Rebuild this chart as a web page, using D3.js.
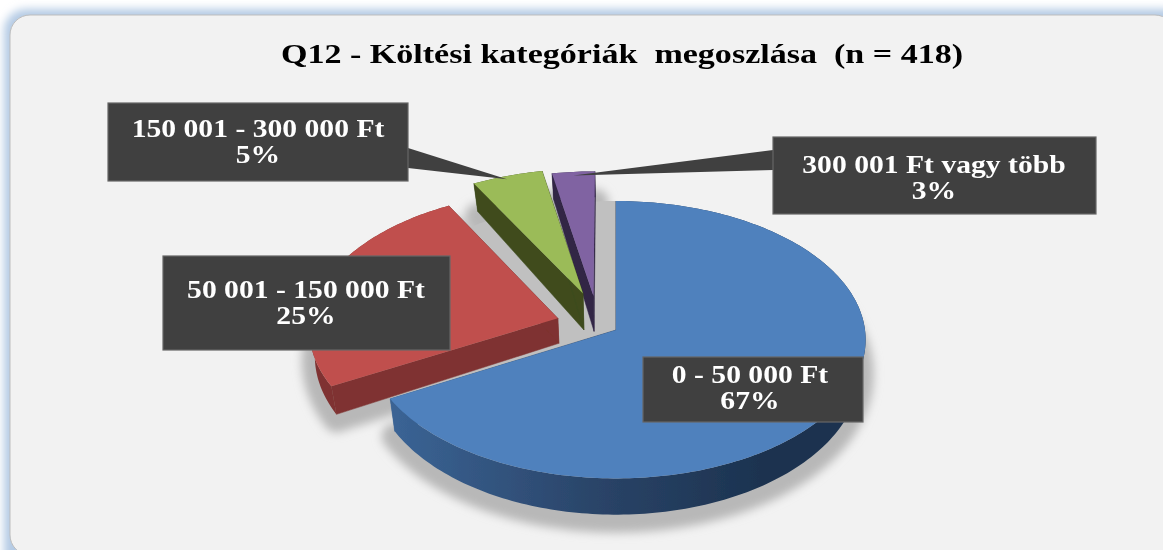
<!DOCTYPE html>
<html><head><meta charset="utf-8">
<style>html,body{margin:0;padding:0;background:#fff;overflow:hidden}svg{display:block}</style>
<script src="https://cdn.jsdelivr.net/npm/d3@7/dist/d3.min.js"></script>
</head><body><svg id="c" width="1163" height="550"></svg>
<script>
const titleText = "Q12 - Költési kategóriák\u00a0 megoszlása\u00a0 (n = 418)";
const categories = ["0 - 50 000 Ft", "50 001 - 150 000 Ft", "150 001 - 300 000 Ft", "300 001 Ft vagy több"];
const values = [67, 25, 5, 3];
const topColors = ["#4f81bd", "#c0504d", "#9bbb59", "#8064a2"];
const wallColors = ["url(#blueWall)", "#7f3331", "#3f4c1e", "#302545"];
const explodeX = [0, -0.235, -0.135, -0.092];
const explodeY = [0, 0.085, 0.27, 0.25];
const sliceDepth = [1, 0.88, 1.35, 1.3];
const boxes = [[643,357,220,65],[163,256,287,94],[108,103,300,78],[773,137,323,77]];
const textCx = [750,306,258,934];
const textBase = [383,298,137,173];
const leaderAnchor = [null,null,[408,148,168],[773,150,170]];

const W = 1163, H = 550, cx = 616, cy = 330, rx = 249, ry = 138, persp = 0.07, depth = 29, depthPersp = 0.25, taper = 0.02;
const labelStretch = 1.21, titleStretch = 1.285;

const svg = d3.select("#c");
const defs = svg.append("defs");
const f1 = defs.append("filter").attr("id","glow").attr("x","-5%").attr("y","-5%").attr("width","110%").attr("height","110%");
f1.append("feGaussianBlur").attr("stdDeviation",4);
const f2 = defs.append("filter").attr("id","shadow").attr("x","-20%").attr("y","-20%").attr("width","140%").attr("height","140%");
f2.append("feGaussianBlur").attr("stdDeviation",5);
const f3 = defs.append("filter").attr("id","soft").attr("x","-2%").attr("y","-2%").attr("width","104%").attr("height","104%");
f3.append("feGaussianBlur").attr("stdDeviation",0.45);
const g = defs.append("linearGradient").attr("id","blueWall").attr("gradientUnits","userSpaceOnUse").attr("x1",397).attr("x2",760).attr("y1",0).attr("y2",0);
g.append("stop").attr("offset",0).attr("stop-color","#3a6394");
g.append("stop").attr("offset",0.55).attr("stop-color","#2a4468");
g.append("stop").attr("offset",1).attr("stop-color","#1c3350");

svg.append("rect").attr("width",W).attr("height",H).attr("fill","#fff");
svg.append("rect").attr("x",4).attr("y",9).attr("width",W+20).attr("height",H+20).attr("rx",22).attr("fill","#b4cae4").attr("filter","url(#glow)");
const root = svg.append("g").attr("filter","url(#soft)");
root.append("rect").attr("x",10).attr("y",15).attr("width",1165).attr("height",540).attr("rx",20)
  .attr("fill","#f2f2f2").attr("stroke","#bdbdbd").attr("stroke-width",1);

function project(wx, wy, z){
  const s = 1/(1+persp*wy);
  return [cx + rx*wx*s*(1-taper*z), cy - ry*wy*s + z*depth*(1-depthPersp*wy)];
}
const pie = d3.pie().sort(null).value(d=>d);
const arcs = pie(values);
const line = d3.line();
function arcPts(d,i,z){
  const n = Math.max(4, Math.ceil((d.endAngle-d.startAngle)/0.02));
  return d3.range(n+1).map(k=>{
    const a = d.startAngle + (d.endAngle-d.startAngle)*k/n;
    return project(explodeX[i]+Math.sin(a), explodeY[i]+Math.cos(a), z*sliceDepth[i]);
  });
}
const apex = (i,z)=>project(explodeX[i],explodeY[i],z*sliceDepth[i]);
const slicePts = (d,i,z)=>[apex(i,z),...arcPts(d,i,z)];

// soft shadow under every slice
const sh = root.append("g").attr("filter","url(#shadow)").attr("transform","translate(0,5)");
arcs.forEach((d,i)=>{
  sh.append("path").attr("d",line(slicePts(d,i,1))+"Z")
    .attr("fill","#b8b8b8").attr("stroke","#b8b8b8").attr("stroke-width",26).attr("stroke-linejoin","round");
});
// shadow of the pie's own disc, left showing in the gaps behind the exploded slices
const restSector = {startAngle: arcs[0].endAngle, endAngle: 2*Math.PI};
root.append("path").attr("d",line(slicePts(restSector,0,0))+"Z")
  .attr("fill","#c0c0c0").attr("filter","url(#soft)");

// painter's order: back slices first
[3,2,1,0].forEach(i=>{
  const d = arcs[i], s = root.append("g");
  const top = arcPts(d,i,0), bot = arcPts(d,i,1);
  const wall = wallColors[i];
  s.append("path").attr("d",line([...top,...bot.slice().reverse()])+"Z").attr("fill",wall);
  s.append("path").attr("d",line([apex(i,0),top[0],bot[0],apex(i,1)])+"Z").attr("fill",wall).attr("stroke",wall).attr("stroke-width",.5);
  s.append("path").attr("d",line([apex(i,0),top[top.length-1],bot[bot.length-1],apex(i,1)])+"Z").attr("fill",wall).attr("stroke",wall).attr("stroke-width",.5);
  s.append("path").attr("d",line(slicePts(d,i,0))+"Z").attr("fill",topColors[i]);
});

// leader wedges
arcs.forEach((d,i)=>{
  if(!leaderAnchor[i]) return;
  const mid = (d.startAngle+d.endAngle)/2;
  const tip = project(explodeX[i]+Math.sin(mid), explodeY[i]+0.97*Math.cos(mid), 0);
  const [x,y0,y1] = leaderAnchor[i];
  root.append("path").attr("d",line([[x,y0],tip,[x,y1]])+"Z").attr("fill","#404040");
});

// label boxes
categories.forEach((c,i)=>{
  const b = boxes[i];
  root.append("rect").attr("x",b[0]).attr("y",b[1]).attr("width",b[2]).attr("height",b[3])
    .attr("fill","#404040").attr("stroke","#666").attr("stroke-width",1.2);
  [c, values[i]+"%"].forEach((t,k)=>{
    root.append("text").attr("transform",`translate(${textCx[i]},${textBase[i]+k*26}) scale(${labelStretch},1)`)
      .attr("text-anchor","middle").attr("fill","#fff")
      .style("font","bold 24.5px 'Liberation Serif'").text(t);
  });
});

root.append("text").attr("transform",`translate(622,63) scale(${titleStretch},1)`)
  .attr("text-anchor","middle").attr("fill","#000")
  .style("font","bold 26.5px 'Liberation Serif'").text(titleText);
</script></body></html>
